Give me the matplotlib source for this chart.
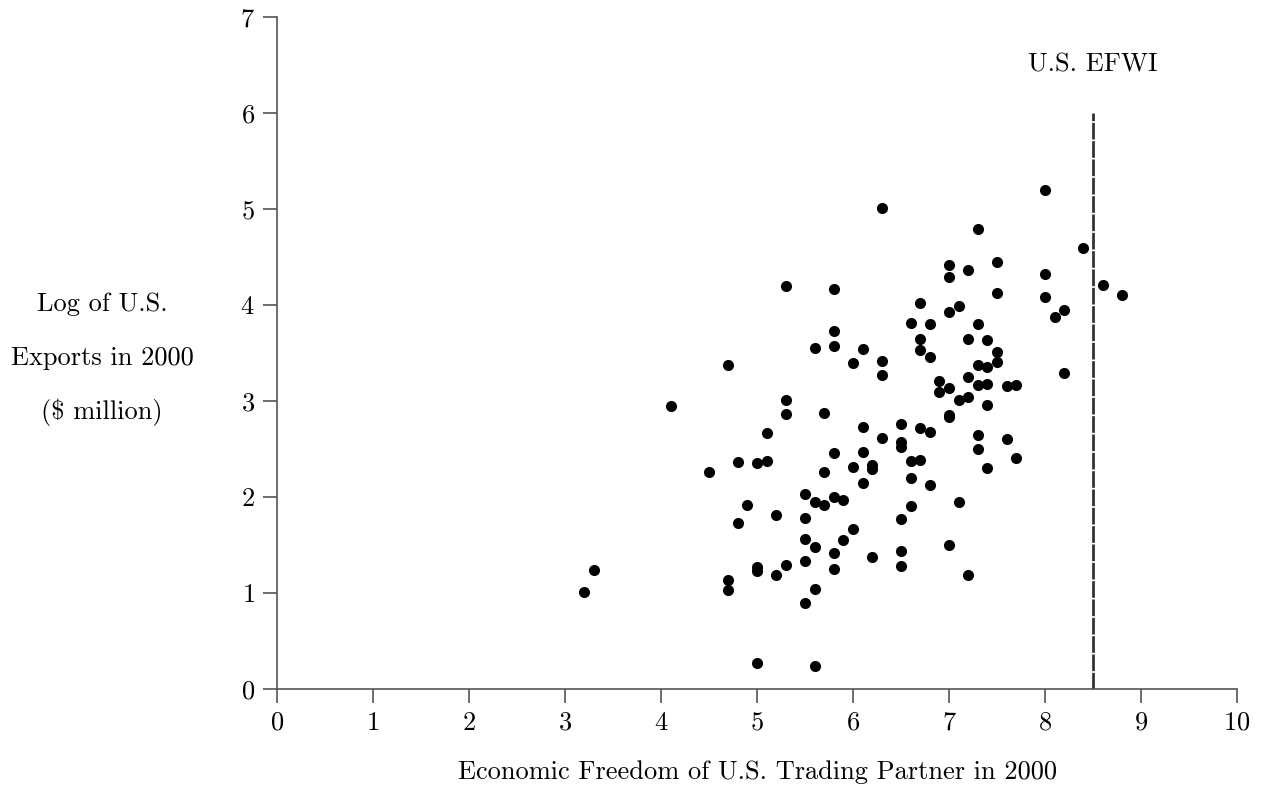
import matplotlib
matplotlib.use('Agg')
import matplotlib.pyplot as plt

# economic freedom score (x) and log of US exports (y)
efw = [3.2, 3.3, 4.1, 4.5, 4.7, 4.7, 4.7, 4.8, 4.8, 4.9,
       5.0, 5.0, 5.0, 5.0, 5.1, 5.1, 5.2, 5.2, 5.3, 5.3,
       5.3, 5.3, 5.5, 5.5, 5.5, 5.5, 5.5, 5.6, 5.6, 5.6,
       5.6, 5.6, 5.7, 5.7, 5.7, 5.8, 5.8, 5.8, 5.8, 5.8,
       5.8, 5.8, 5.9, 5.9, 6.0, 6.0, 6.0, 6.1, 6.1, 6.1,
       6.1, 6.2, 6.2, 6.2, 6.3, 6.3, 6.3, 6.3, 6.5, 6.5,
       6.5, 6.5, 6.5, 6.5, 6.6, 6.6, 6.6, 6.6, 6.7, 6.7,
       6.7, 6.7, 6.7, 6.8, 6.8, 6.8, 6.8, 6.9, 6.9, 7.0,
       7.0, 7.0, 7.0, 7.0, 7.0, 7.0, 7.1, 7.1, 7.1, 7.2,
       7.2, 7.2, 7.2, 7.2, 7.3, 7.3, 7.3, 7.3, 7.3, 7.3,
       7.4, 7.4, 7.4, 7.4, 7.4, 7.5, 7.5, 7.5, 7.5, 7.6,
       7.6, 7.7, 7.7, 8.0, 8.0, 8.0, 8.1, 8.2, 8.2, 8.4,
       8.6, 8.8]
log_exports = [1.01, 1.24, 2.95, 2.26, 3.37, 1.14, 1.03, 2.36, 1.73, 1.92,
               2.35, 1.27, 1.23, 0.27, 2.67, 2.37, 1.81, 1.19, 4.20, 3.01,
               2.86, 1.29, 2.03, 1.78, 1.56, 1.33, 0.90, 3.55, 1.95, 1.48,
               1.04, 0.24, 2.87, 2.26, 1.92, 4.17, 3.73, 3.57, 2.46, 2.00,
               1.42, 1.25, 1.97, 1.55, 3.40, 2.31, 1.67, 3.54, 2.73, 2.47,
               2.15, 2.33, 2.29, 1.37, 5.01, 3.42, 3.27, 2.61, 2.76, 2.57,
               2.52, 1.77, 1.44, 1.28, 3.81, 2.38, 2.20, 1.91, 4.02, 3.65,
               3.53, 2.72, 2.39, 3.80, 3.46, 2.68, 2.13, 3.21, 3.09, 4.42,
               4.29, 3.93, 3.14, 2.85, 2.83, 1.50, 3.99, 3.01, 1.95, 4.36,
               3.65, 3.25, 3.04, 1.19, 4.79, 3.80, 3.38, 3.17, 2.65, 2.50,
               3.64, 3.35, 3.18, 2.96, 2.30, 4.45, 4.12, 3.51, 3.41, 3.16,
               2.60, 3.17, 2.41, 5.20, 4.32, 4.08, 3.88, 3.95, 3.29, 4.59,
               4.21, 4.10]
us_efwi = 8.5
ylabel_lines = ['Log of U.S.', 'Exports in 2000', '($ million)']

plt.rcParams['font.family'] = 'cmr10'
plt.rcParams['mathtext.fontset'] = 'cm'
plt.rcParams['axes.formatter.use_mathtext'] = True
fs = 19

fig = plt.figure(figsize=(12.62, 7.89), dpi=100)
ax = fig.add_axes([0.2195, 0.1267, 0.7607, 0.8518])

ax.plot(efw, log_exports, 'o', color='black', markersize=8, markeredgewidth=0)
ax.plot([us_efwi, us_efwi], [0, 6], color='#333333', lw=2, dashes=(6, 0.6))
ax.text(us_efwi, 6.5, 'U.S. EFWI', ha='center', va='center', fontsize=fs)

ax.set_xlim(0, 10)
ax.set_ylim(0, 7)
ax.set_xticks(range(0, 11))
ax.set_yticks(range(0, 8))
for s in ['top', 'right']:
    ax.spines[s].set_visible(False)
for s in ['left', 'bottom']:
    ax.spines[s].set_color('#555555')
    ax.spines[s].set_linewidth(1.2)
ax.tick_params(direction='out', length=10, width=1.2, color='#555555',
               labelsize=fs, pad=6)

ax.set_xlabel('Economic Freedom of U.S. Trading Partner in 2000', fontsize=fs, labelpad=18)

# three-line label left of the y axis, baselines in pixels from the top
for txt, yp in zip(ylabel_lines, [311, 365, 419]):
    fig.text(102 / 1262, 1 - yp / 789, txt, ha='center', va='baseline', fontsize=fs)

plt.savefig('out.png', dpi=100)
